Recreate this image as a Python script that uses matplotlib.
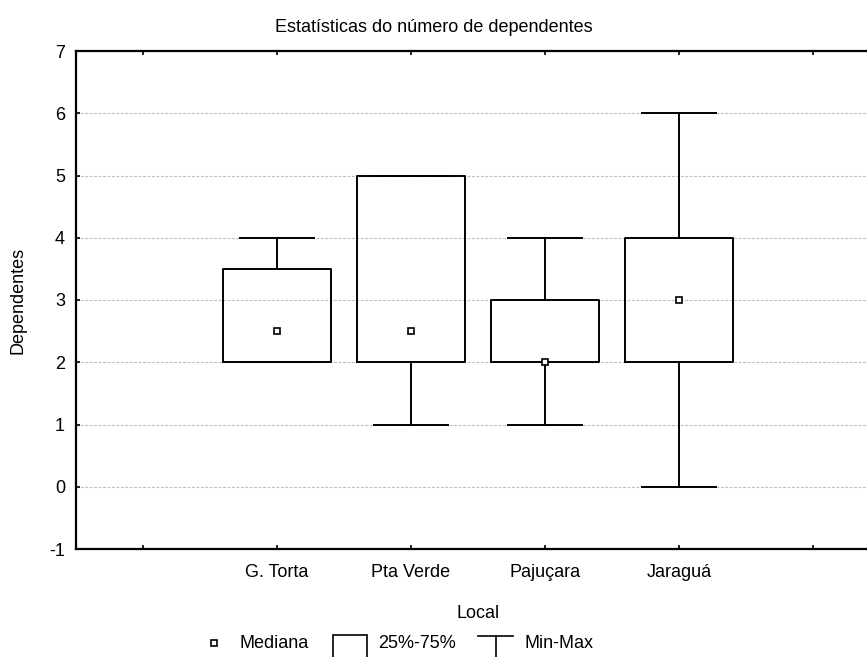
import matplotlib
matplotlib.use("Agg")
import matplotlib.pyplot as plt
from matplotlib.lines import Line2D
from matplotlib.patches import Rectangle

plt.rcParams["font.family"] = ["Liberation Sans", "DejaVu Sans"]
plt.rcParams["axes.unicode_minus"] = False

# Data
locais = ["G. Torta", "Pta Verde", "Pajuçara", "Jaraguá"]
minimo = [2, 1, 1, 0]
q25 = [2, 2, 2, 2]
mediana = [2.5, 2.5, 2, 3]
q75 = [3.5, 5, 3, 4]
maximo = [4, 5, 4, 6]

fs = 13
W, H = 867, 657
fig = plt.figure(figsize=(W / 100, H / 100), dpi=100)
# axes run past the right edge of the image, as in the original
ax = fig.add_axes([76 / W, 1 - 549 / H, (880 - 76) / W, (549 - 51) / H])

pos = list(range(1, len(locais) + 1))
stats = []
for i in range(len(locais)):
    stats.append(dict(med=mediana[i], q1=q25[i], q3=q75[i],
                      whislo=minimo[i], whishi=maximo[i], fliers=[]))

lw = 1.4
ax.bxp(stats, positions=pos, widths=0.8, capwidths=0.55, showfliers=False,
       boxprops=dict(color="black", linewidth=lw),
       whiskerprops=dict(color="black", linewidth=lw),
       capprops=dict(color="black", linewidth=lw),
       medianprops=dict(linewidth=0), zorder=3)
ax.plot(pos, mediana, linestyle="none", marker="s", markersize=4.5,
        markerfacecolor="white", markeredgecolor="black",
        markeredgewidth=1.2, zorder=4)

ax.set_xlim(-0.5, 5.5)
ax.set_ylim(-1, 7)
ax.set_xticks(range(0, 6))
ax.set_xticklabels([""] + locais + [""], fontsize=fs)
ax.set_yticks(range(-1, 8))
ax.set_yticklabels([str(v) for v in range(-1, 8)], fontsize=fs)
ax.tick_params(direction="in", length=3, width=1.2, top=True, right=False)
ax.tick_params(axis="x", pad=11)
ax.tick_params(axis="y", pad=8)

ax.yaxis.grid(True, color="#bdbdbd", linestyle=(0, (2.5, 1.5)), linewidth=0.8)
ax.set_axisbelow(True)
for s in ax.spines.values():
    s.set_linewidth(1.6)

ax.set_xlabel("Local", fontsize=fs, labelpad=17)
ax.set_ylabel("Dependentes", fontsize=fs, labelpad=16)
fig.text(0.5, 1 - 28 / H, "Estatísticas do número de dependentes",
         ha="center", va="center", fontsize=fs)

# legend drawn by hand along the bottom edge
def fx(x):
    return x / W

def fy(y):
    return 1 - y / H

ly = 643
fig.add_artist(Line2D([fx(214)], [fy(ly)], marker="s", markersize=4.5,
                      markerfacecolor="white", markeredgecolor="black",
                      markeredgewidth=1.2, linestyle="none"))
fig.text(fx(239), fy(ly), "Mediana", ha="left", va="center", fontsize=fs)
fig.add_artist(Rectangle((fx(333), fy(662)), fx(367) - fx(333), fy(635) - fy(662),
                         facecolor="none", edgecolor="black", linewidth=1.2,
                         transform=fig.transFigure))
fig.text(fx(378), fy(ly), "25%-75%", ha="left", va="center", fontsize=fs)
fig.add_artist(Line2D([fx(478), fx(513)], [fy(636), fy(636)], color="black",
                      linewidth=1.2))
fig.add_artist(Line2D([fx(496), fx(496)], [fy(636), fy(662)], color="black",
                      linewidth=1.2))
fig.text(fx(524), fy(ly), "Min-Max", ha="left", va="center", fontsize=fs)

fig.savefig("out.png", dpi=100)
